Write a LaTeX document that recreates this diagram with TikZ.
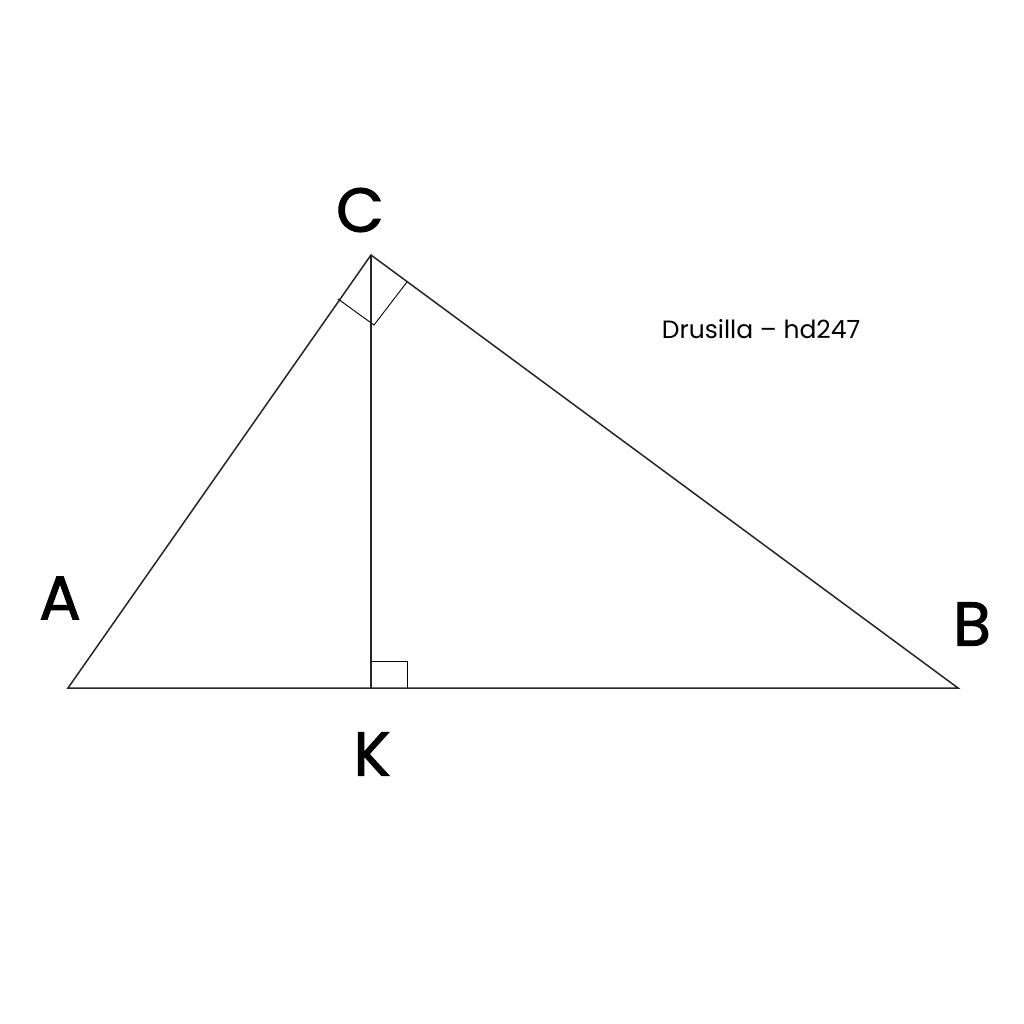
\documentclass[tikz,border=0pt]{standalone}
\usepackage{fontspec}
\setmainfont{Poppins}
\newfontfamily\lblfont[FakeBold=1.5]{Poppins}
\begin{document}
\begin{tikzpicture}[x=1pt,y=-1pt,
  side/.style={line width=1.5pt, black!85},
  anglemark/.style={line width=0.9pt, black},
  lbl/.style={font=\lblfont\fontsize{62}{62}\selectfont, inner sep=0pt},
  sig/.style={font=\fontsize{25}{25}\selectfont, inner sep=0pt}]
\useasboundingbox[fill=white] (0,0) rectangle (1024,1024);
\coordinate (A) at (68,688);
\coordinate (B) at (958,688);
\coordinate (C) at (371,255);
\coordinate (K) at (371,688);
\draw[side] (A) -- (B) -- (C) -- cycle;
\draw[side] (C) -- (K);
\coordinate (ca) at (338,299);
\coordinate (cm) at (374,325);
\coordinate (cb) at (407,282);
\draw[anglemark] (ca) -- (cm) -- (cb);
\coordinate (k1) at (371,661);
\coordinate (k2) at (407,661);
\coordinate (k3) at (407,688);
\draw[anglemark] (k1) -- (k2) -- (k3);
\node[lbl] (lC) at (360,210) {C};
\node[lbl] (lA) at (60,598) {A};
\node[lbl] (lB) at (972,624) {B};
\node[lbl] (lK) at (372,754) {K};
\node[sig] (sg) at (761,329) {Drusilla – hd247};
\end{tikzpicture}
\end{document}
